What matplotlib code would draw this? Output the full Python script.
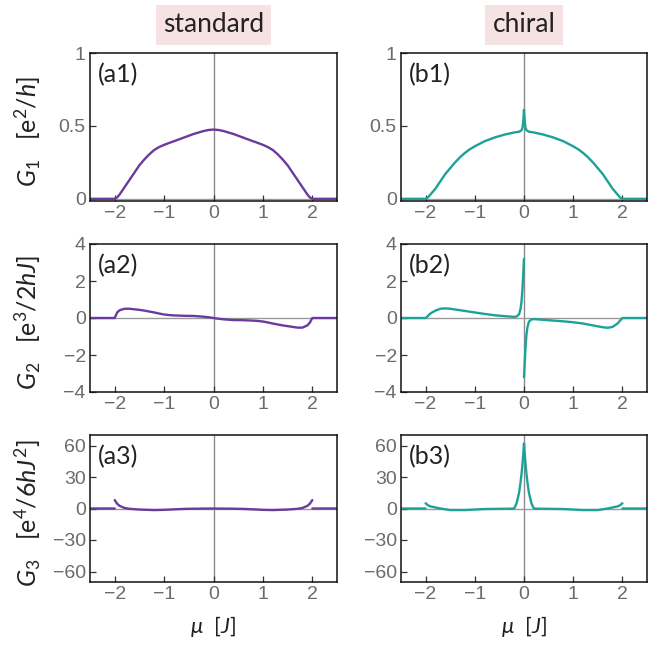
import numpy as np
import matplotlib
matplotlib.use("Agg")
import matplotlib.pyplot as plt

# ---------------- data ----------------
nan = np.nan
# standard column
mu_std = [-2.5, -2.0, -1.95, -1.9, -1.8, -1.7, -1.6, -1.5, -1.4, -1.3, -1.2, -1.1, -1.0,
          -0.9, -0.8, -0.6, -0.4, -0.2, -0.1, 0.0, 0.1, 0.2, 0.4, 0.6, 0.8, 0.9, 1.0, 1.1,
          1.2, 1.3, 1.4, 1.5, 1.6, 1.7, 1.8, 1.9, 1.95, 2.0, 2.5]
G1_std = [0, 0, 0.01, 0.03, 0.08, 0.13, 0.18, 0.23, 0.27, 0.305, 0.335, 0.355, 0.37,
          0.383, 0.395, 0.42, 0.445, 0.465, 0.472, 0.475, 0.472, 0.465, 0.445, 0.42, 0.395,
          0.383, 0.37, 0.355, 0.335, 0.305, 0.27, 0.23, 0.18, 0.13, 0.08, 0.03, 0.01, 0, 0]
G2_std = [0, 0, 0.30, 0.42, 0.50, 0.50, 0.47, 0.44, 0.40, 0.35, 0.30, 0.24, 0.19,
          0.16, 0.14, 0.12, 0.11, 0.07, 0.04, 0.0, -0.04, -0.07, -0.11, -0.12, -0.14,
          -0.16, -0.19, -0.24, -0.30, -0.35, -0.40, -0.44, -0.48, -0.52, -0.52, -0.40,
          -0.25, 0, 0]
mu_std3 = [-2.5, -2.0, -2.0, -2.0, -1.95, -1.9, -1.8, -1.7, -1.5, -1.2, -1.0, -0.8, -0.6,
           -0.4, -0.2, 0.0, 0.2, 0.4, 0.6, 0.8, 1.0, 1.2, 1.5, 1.7, 1.8, 1.9, 1.95,
           2.0, 2.0, 2.0, 2.5]
G3_std = [0, 0, nan, 8.0, 4.5, 2.5, 0.5, -0.3, -1.0, -1.5, -1.3, -0.8, -0.4,
          -0.2, -0.1, 0.0, -0.1, -0.2, -0.4, -0.8, -1.3, -1.5, -1.0, -0.3, 0.5, 2.5, 4.5,
          8.0, nan, 0, 0]

# chiral column
mu_chi1 = [-2.5, -2.0, -1.95, -1.9, -1.8, -1.7, -1.6, -1.5, -1.4, -1.3, -1.2, -1.1, -1.0,
           -0.8, -0.6, -0.4, -0.2, -0.1, -0.05, -0.03, -0.015, 0.0, 0.015, 0.03, 0.05, 0.1,
           0.2, 0.4, 0.6, 0.8, 1.0, 1.1, 1.2, 1.3, 1.4, 1.5, 1.6, 1.7, 1.8, 1.9, 1.95,
           2.0, 2.5]
G1_chi = [0, 0, 0.01, 0.03, 0.07, 0.12, 0.17, 0.21, 0.25, 0.285, 0.315, 0.34, 0.36,
          0.395, 0.42, 0.44, 0.455, 0.46, 0.47, 0.49, 0.53, 0.61, 0.53, 0.49, 0.47, 0.46,
          0.455, 0.44, 0.42, 0.395, 0.36, 0.34, 0.315, 0.285, 0.25, 0.21, 0.17, 0.12, 0.07,
          0.03, 0.01, 0, 0]
mu_chi2 = [-2.5, -2.0, -1.95, -1.9, -1.8, -1.7, -1.6, -1.5, -1.4, -1.2, -1.0, -0.8, -0.6,
           -0.4, -0.2, -0.15, -0.1, -0.07, -0.05, -0.03, -0.015, 0.0, 0.0, 0.0, 0.015, 0.03,
           0.05, 0.07, 0.1, 0.15, 0.2, 0.4, 0.6, 0.8, 1.0, 1.2, 1.4, 1.6, 1.7, 1.8, 1.9,
           1.95, 2.0, 2.5]
G2_chi = [0, 0, 0.12, 0.25, 0.40, 0.50, 0.52, 0.50, 0.46, 0.38, 0.30, 0.22, 0.15,
          0.10, 0.06, 0.08, 0.20, 0.50, 0.90, 1.60, 2.40, 3.20, nan, -3.20, -2.40, -1.60,
          -0.90, -0.50, -0.20, -0.08, -0.06, -0.10, -0.14, -0.18, -0.23, -0.30, -0.40, -0.50,
          -0.53, -0.48, -0.30, -0.15, 0, 0]
mu_chi3 = [-2.5, -2.0, -2.0, -2.0, -1.95, -1.9, -1.8, -1.7, -1.5, -1.2, -1.0, -0.8, -0.5,
           -0.3, -0.2, -0.15, -0.1, -0.07, -0.05, -0.03, -0.015, 0.0, 0.015, 0.03, 0.05,
           0.07, 0.1, 0.15, 0.2, 0.3, 0.5, 0.8, 1.0, 1.2, 1.5, 1.7, 1.8, 1.9, 1.95, 2.0,
           2.0, 2.0, 2.5]
G3_chi = [0, 0, nan, 5.0, 3.0, 2.0, 1.0, 0.0, -1.5, -1.5, -1.0, -0.5, -0.3,
          -0.2, 0.0, 5.0, 15.0, 25.0, 33.0, 43.0, 52.0, 62.0, 52.0, 43.0, 33.0,
          25.0, 15.0, 5.0, 0.0, -0.2, -0.3, -0.5, -1.0, -1.5, -1.5, 0.0, 1.0, 2.0, 3.0, 5.0,
          nan, 0, 0]

col_titles = ["standard", "chiral"]
panel_labels = [["(a1)", "(a2)", "(a3)"], ["(b1)", "(b2)", "(b3)"]]
ylabels = [r"$G_1$   [e$^2$/$h$]", r"$G_2$   [e$^3$/2$hJ$]", r"$G_3$   [e$^4$/6$hJ^2$]"]
xlabel = r"$\mu$  [$J$]"
yticks = [[0, 0.5, 1], [-4, -2, 0, 2, 4], [-60, -30, 0, 30, 60]]
yticklabels = [["0", "0.5", "1"], ["\u22124", "\u22122", "0", "2", "4"],
               ["\u221260", "\u221230", "0", "30", "60"]]
ylims = [(-0.015, 1.0), (-4, 4), (-70, 70)]
xticks = [-2, -1, 0, 1, 2]
xticklabels = ["\u22122", "\u22121", "0", "1", "2"]

series = [
    [(mu_std, G1_std), (mu_std, G2_std), (mu_std3, G3_std)],
    [(mu_chi1, G1_chi), (mu_chi2, G2_chi), (mu_chi3, G3_chi)],
]
colors = ["#6a3a9e", "#1ba397"]

# ---------------- style ----------------
plt.rcParams["mathtext.fontset"] = "custom"
plt.rcParams["mathtext.rm"] = "Lato"
plt.rcParams["mathtext.it"] = "Lato:italic"
plt.rcParams["mathtext.bf"] = "Lato:bold"

W, H = 654, 646
fig = plt.figure(figsize=(W / 100, H / 100), dpi=100)

col_left = [90, 401]
col_width = [247, 246]
row_top = [53, 244, 435]
row_bot = [201, 392, 582]

tick_gray = "#6b6b6b"
for c in range(2):
    for r in range(3):
        ax = fig.add_axes([col_left[c] / W, 1 - row_bot[r] / H,
                           col_width[c] / W, (row_bot[r] - row_top[r]) / H])
        ax.axvline(0, color="#8a8a8a", lw=1.0, zorder=1)
        ax.axhline(0, color="#9a9a9a", lw=1.0, zorder=1)
        x, y = series[c][r]
        ax.plot(x, y, color=colors[c], lw=1.7, zorder=2, solid_capstyle="round")
        ax.set_xlim(-2.5, 2.5)
        ax.set_ylim(*ylims[r])
        ax.set_xticks(xticks)
        ax.set_xticklabels(xticklabels)
        ax.set_yticks(yticks[r])
        ax.set_yticklabels(yticklabels[r])
        ax.tick_params(direction="in", length=4, width=0.9, color="#333333",
                       labelsize=14, labelcolor=tick_gray, pad=3)
        for lab in ax.get_xticklabels() + ax.get_yticklabels():
            lab.set_fontfamily("Liberation Sans")
        for s in ax.spines.values():
            s.set_linewidth(1.1)
            s.set_color("#111111")
        ax.text(0.03, 0.935, panel_labels[c][r], transform=ax.transAxes,
                ha="left", va="top", fontsize=18, family="Lato", color="#222222")
        if c == 0:
            ax.set_ylabel(ylabels[r], fontsize=18, family="Lato", color="#222222")
            ax.yaxis.label.set_va("center")
            ax.yaxis.set_label_coords(-0.252, 0.47)
        if r == 2:
            ax.set_xlabel(xlabel, fontsize=16, family="Lato", color="#222222")
            ax.xaxis.set_label_coords(0.5, -0.30)
            ax.xaxis.label.set_va("center")
        if r == 0:
            fig.text((col_left[c] + col_width[c] / 2) / W, 1 - 25 / H, col_titles[c],
                     ha="center", va="center", fontsize=19, family="Lato",
                     color="#222222",
                     bbox=dict(boxstyle="square,pad=0.28", fc="#f6e2e2", ec="none"))

fig.savefig("out.png", dpi=100)
